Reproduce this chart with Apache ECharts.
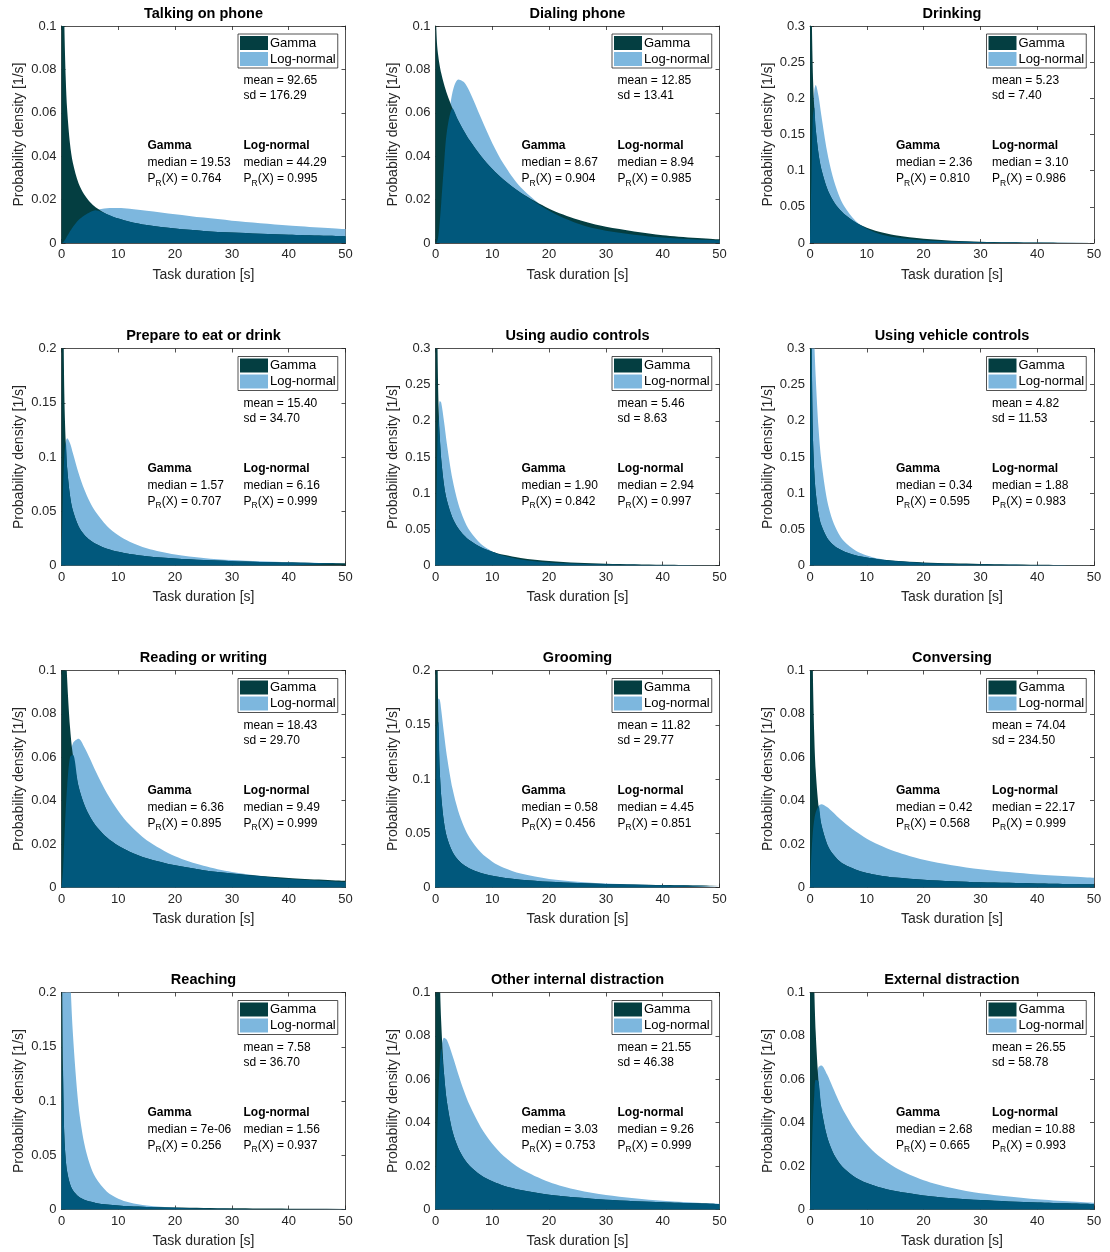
<!DOCTYPE html>
<html>
<head>
<meta charset="utf-8">
<script src="https://cdn.jsdelivr.net/npm/echarts@6/dist/echarts.min.js"></script>
<style>
  html, body { margin: 0; padding: 0; background: #fff; }
  #chart { width: 1110px; height: 1252px; }
</style>
</head>
<body>
<div id="chart"></div>
<script>
// Task durations (s) at which both densities are sampled
const X = [0, 0.25, 0.5, 0.75, 1, 1.5, 2, 3, 4, 5, 6, 8, 10, 12, 15, 20, 25, 30, 40, 50];

const TITLES = ['Talking on phone', 'Dialing phone', 'Drinking',
  'Prepare to eat or drink', 'Using audio controls', 'Using vehicle controls',
  'Reading or writing', 'Grooming', 'Conversing',
  'Reaching', 'Other internal distraction', 'External distraction'];
const Y_MAX  = [0.1, 0.1, 0.3, 0.2, 0.3, 0.3, 0.1, 0.2, 0.1, 0.2, 0.1, 0.1];
const Y_STEP = [0.02, 0.02, 0.05, 0.05, 0.05, 0.05, 0.02, 0.05, 0.02, 0.05, 0.02, 0.02];

const MEAN     = ['92.65', '12.85', '5.23', '15.40', '5.46', '4.82', '18.43', '11.82', '74.04', '7.58', '21.55', '26.55'];
const SD       = ['176.29', '13.41', '7.40', '34.70', '8.63', '11.53', '29.70', '29.77', '234.50', '36.70', '46.38', '58.78'];
const G_MEDIAN = ['19.53', '8.67', '2.36', '1.57', '1.90', '0.34', '6.36', '0.58', '0.42', '7e-06', '3.03', '2.68'];
const G_PR     = ['0.764', '0.904', '0.810', '0.707', '0.842', '0.595', '0.895', '0.456', '0.568', '0.256', '0.753', '0.665'];
const L_MEDIAN = ['44.29', '8.94', '3.10', '6.16', '2.94', '1.88', '9.49', '4.45', '22.17', '1.56', '9.26', '10.88'];
const L_PR     = ['0.995', '0.985', '0.986', '0.999', '0.997', '0.983', '0.999', '0.851', '0.999', '0.937', '0.999', '0.993'];

// Probability densities [1/s] at X (values above an axis top run off the plot)
const G_TALKING = [0.2, 0.1676, 0.1014, 0.0755, 0.0613, 0.0456, 0.0370, 0.0275, 0.0223, 0.0189, 0.0165, 0.0133, 0.01127, 0.00982, 0.00828, 0.00663, 0.00555, 0.00480, 0.00378, 0.00312];
const L_TALKING = [0, 0.0002, 0.0010, 0.0020, 0.0032, 0.0054, 0.0074, 0.0106, 0.0127, 0.0142, 0.0151, 0.0160, 0.0161, 0.0158, 0.0149, 0.0133, 0.0117, 0.0103, 0.0081, 0.0064];

const G_DIALING = [0.11, 0.0925, 0.0859, 0.0816, 0.0783, 0.0731, 0.0689, 0.0620, 0.0564, 0.0516, 0.0473, 0.0401, 0.0341, 0.0291, 0.0231, 0.0158, 0.0108, 0.0075, 0.0036, 0.0017];
const L_DIALING = [0, 0.0003, 0.0034, 0.0098, 0.0182, 0.0361, 0.0513, 0.0696, 0.0754, 0.0742, 0.0698, 0.0577, 0.0460, 0.0364, 0.0257, 0.0149, 0.0090, 0.0057, 0.0025, 0.0012];

const G_DRINKING = [0.45, 0.3408, 0.2352, 0.1875, 0.1585, 0.1233, 0.1018, 0.0756, 0.0595, 0.0483, 0.0401, 0.0287, 0.0212, 0.0160, 0.0107, 0.0058, 0.0032, 0.0018, 0.0006, 0.0002];
const L_DRINKING = [0, 0.0906, 0.1750, 0.2100, 0.2184, 0.2031, 0.1761, 0.1268, 0.0918, 0.0678, 0.0512, 0.0309, 0.0198, 0.0133, 0.0079, 0.0037, 0.0020, 0.0012, 0.0005, 0.0002];

const G_PREPARE = [0.4, 0.2756, 0.1575, 0.1133, 0.0897, 0.0643, 0.0507, 0.0362, 0.0283, 0.0234, 0.0200, 0.0154, 0.0126, 0.0106, 0.0085, 0.0064, 0.0050, 0.0040, 0.0028, 0.0021];
const L_PREPARE = [0, 0.0673, 0.1015, 0.1140, 0.1172, 0.1127, 0.1037, 0.0853, 0.0703, 0.0586, 0.0495, 0.0365, 0.0279, 0.0220, 0.0160, 0.0102, 0.0070, 0.0050, 0.0029, 0.0018];

const G_AUDIO = [0.45, 0.3574, 0.2315, 0.1783, 0.1473, 0.1113, 0.0903, 0.0658, 0.0515, 0.0418, 0.0349, 0.0253, 0.0191, 0.0148, 0.0104, 0.0061, 0.0037, 0.0023, 0.0009, 0.0004];
const L_AUDIO = [0, 0.1279, 0.2057, 0.2274, 0.2255, 0.1991, 0.1684, 0.1188, 0.0857, 0.0635, 0.0483, 0.0297, 0.0195, 0.0134, 0.0082, 0.0041, 0.0023, 0.0014, 0.0006, 0.0003];

const G_VEHICLE = [0.5, 0.3291, 0.1841, 0.1306, 0.1020, 0.0717, 0.0555, 0.0383, 0.0291, 0.0234, 0.0194, 0.0142, 0.0110, 0.0088, 0.0066, 0.0043, 0.0030, 0.0022, 0.0012, 0.0007];
const L_VEHICLE = [0, 0.4019, 0.3676, 0.3104, 0.2613, 0.1904, 0.1443, 0.0907, 0.0619, 0.0447, 0.0336, 0.0207, 0.0138, 0.0097, 0.0061, 0.0033, 0.0020, 0.0013, 0.0006, 0.0003];

const G_READING = [0.3, 0.2280, 0.1481, 0.1148, 0.0957, 0.0738, 0.0612, 0.0467, 0.0383, 0.0327, 0.0286, 0.0230, 0.0192, 0.0165, 0.0135, 0.0102, 0.0080, 0.0065, 0.0044, 0.0031];
const L_READING = [0, 0.0075, 0.0226, 0.0362, 0.0468, 0.0601, 0.0664, 0.0685, 0.0648, 0.0594, 0.0537, 0.0434, 0.0353, 0.0289, 0.0218, 0.0144, 0.0100, 0.0072, 0.0040, 0.0025];

const G_GROOMING = [0.4, 0.2749, 0.1528, 0.1082, 0.0846, 0.0598, 0.0466, 0.0327, 0.0253, 0.0207, 0.0175, 0.0134, 0.0108, 0.0090, 0.0072, 0.0053, 0.0041, 0.0033, 0.0023, 0.0016];
const L_GROOMING = [0, 0.1455, 0.1742, 0.1731, 0.1640, 0.1416, 0.1213, 0.0909, 0.0705, 0.0562, 0.0459, 0.0322, 0.0238, 0.0182, 0.0128, 0.0079, 0.0053, 0.0037, 0.0021, 0.0013];

const G_CONVERSING = [0.3, 0.1888, 0.1011, 0.0701, 0.0541, 0.0375, 0.0290, 0.0201, 0.0155, 0.0126, 0.0107, 0.0083, 0.0067, 0.0057, 0.0046, 0.0036, 0.0029, 0.0024, 0.0019, 0.0015];
const L_CONVERSING = [0, 0.0155, 0.0256, 0.0313, 0.0346, 0.0377, 0.0384, 0.0371, 0.0348, 0.0323, 0.0300, 0.0259, 0.0225, 0.0198, 0.0166, 0.0128, 0.0103, 0.0084, 0.0060, 0.0045];

const G_REACHING = [0.3, 0.1318, 0.0678, 0.0459, 0.0348, 0.0235, 0.0178, 0.0120, 0.0091, 0.0073, 0.0061, 0.0046, 0.0037, 0.0030, 0.0024, 0.0018, 0.0014, 0.0011, 0.0008, 0.0006];
const L_REACHING = [0, 0.4152, 0.4242, 0.3679, 0.3104, 0.2215, 0.1627, 0.0955, 0.0611, 0.0415, 0.0295, 0.0164, 0.0100, 0.0065, 0.0037, 0.0017, 0.0009, 0.0005, 0.0002, 0.0001];

const G_OTHER = [0.35, 0.2586, 0.1498, 0.1087, 0.0866, 0.0627, 0.0498, 0.0359, 0.0283, 0.0235, 0.0202, 0.0158, 0.0130, 0.0110, 0.0090, 0.0068, 0.0055, 0.0045, 0.0033, 0.0025];
const L_OTHER = [0, 0.0290, 0.0533, 0.0669, 0.0742, 0.0792, 0.0782, 0.0709, 0.0625, 0.0547, 0.0481, 0.0378, 0.0303, 0.0247, 0.0188, 0.0127, 0.0090, 0.0067, 0.0040, 0.0026];

const G_EXTERNAL = [0.35, 0.2479, 0.1425, 0.1030, 0.0818, 0.0590, 0.0467, 0.0336, 0.0265, 0.0220, 0.0189, 0.0148, 0.0122, 0.0104, 0.0085, 0.0065, 0.0052, 0.0044, 0.0032, 0.0025];
const L_EXTERNAL = [0, 0.0215, 0.0411, 0.0529, 0.0598, 0.0657, 0.0664, 0.0623, 0.0563, 0.0504, 0.0451, 0.0364, 0.0299, 0.0249, 0.0194, 0.0135, 0.0099, 0.0075, 0.0047, 0.0031];

const GAMMA = [G_TALKING, G_DIALING, G_DRINKING, G_PREPARE, G_AUDIO, G_VEHICLE,
  G_READING, G_GROOMING, G_CONVERSING, G_REACHING, G_OTHER, G_EXTERNAL];
const LOGN = [L_TALKING, L_DIALING, L_DRINKING, L_PREPARE, L_AUDIO, L_VEHICLE,
  L_READING, L_GROOMING, L_CONVERSING, L_REACHING, L_OTHER, L_EXTERNAL];

// Panel geometry and styling
const COL_LEFT = [61.5, 435.5, 810];
const ROW_TOP = [26, 348.5, 670.5, 992.5];
const PLOT_W = 284;
const PLOT_H = 217;
const FONT = '"Liberation Sans", Arial, Helvetica, sans-serif';
const AXIS_COLOR = '#262626';
const C_GAMMA = '#043e41';
const C_LOGN = '#7db7de';
const C_BOTH = '#01587c';

const grids = [], xAxes = [], yAxes = [], series = [], legends = [], graphics = [];

const fmtY = v => String(+v.toFixed(3));

function text(x, y, str, extra) {
  return {
    type: 'text', x: x, y: y, silent: true,
    style: Object.assign({
      text: str, fill: '#000', fontSize: 12, fontFamily: FONT,
      textVerticalAlign: 'middle', textAlign: 'left'
    }, extra || {})
  };
}

TITLES.forEach((title, i) => {
  const r = Math.floor(i / 3), c = i % 3;
  const left = COL_LEFT[c], top = ROW_TOP[r];
  grids.push({ left: left, top: top, width: PLOT_W, height: PLOT_H, containLabel: false });

  const tickStyle = { show: true, inside: true, length: 4, lineStyle: { color: AXIS_COLOR, width: 0.8 } };
  const lineStyle = { show: true, onZero: false, lineStyle: { color: AXIS_COLOR, width: 0.8 } };

  xAxes.push({
    gridIndex: i, type: 'value', min: 0, max: 50, interval: 10, position: 'bottom',
    axisLine: lineStyle, axisTick: tickStyle, splitLine: { show: false },
    axisLabel: { fontSize: 13, color: AXIS_COLOR, margin: 5, fontFamily: FONT },
    name: 'Task duration [s]', nameLocation: 'middle', nameGap: 25,
    nameTextStyle: { fontSize: 14, color: AXIS_COLOR, fontFamily: FONT }
  });
  xAxes.push({
    gridIndex: i, type: 'value', min: 0, max: 50, interval: 10, position: 'top',
    axisLine: lineStyle, axisTick: tickStyle, splitLine: { show: false },
    axisLabel: { show: false }
  });
  yAxes.push({
    gridIndex: i, type: 'value', min: 0, max: Y_MAX[i], interval: Y_STEP[i], position: 'left',
    axisLine: lineStyle, axisTick: tickStyle, splitLine: { show: false },
    axisLabel: { fontSize: 13, color: AXIS_COLOR, margin: 5, fontFamily: FONT, formatter: fmtY },
    name: 'Probability density [1/s]', nameLocation: 'middle', nameGap: 35,
    nameTextStyle: { fontSize: 14, color: AXIS_COLOR, fontFamily: FONT }
  });
  yAxes.push({
    gridIndex: i, type: 'value', min: 0, max: Y_MAX[i], interval: Y_STEP[i], position: 'right',
    axisLine: lineStyle, axisTick: tickStyle, splitLine: { show: false },
    axisLabel: { show: false }
  });

  const g = GAMMA[i], l = LOGN[i];
  const both = g.map((v, j) => Math.min(v, l[j]));
  const area = (name, vals, color, z) => ({
    name: name, type: 'line', xAxisIndex: 2 * i, yAxisIndex: 2 * i,
    data: X.map((x, j) => [x, vals[j]]),
    smooth: 0.3, showSymbol: false, symbol: 'none', silent: true, clip: true,
    color: color, itemStyle: { color: color },
    lineStyle: { width: 0, color: color },
    areaStyle: { color: color, opacity: 1 }, z: z
  });
  series.push(area('Log-normal', l, C_LOGN, 2));
  series.push(area('Gamma', g, C_GAMMA, 3));
  series.push(area('Both', both, C_BOTH, 4));

  legends.push({
    data: ['Gamma', 'Log-normal'], orient: 'vertical', selectedMode: false,
    left: left + 176.5, top: top + 8, icon: 'rect', itemWidth: 28, itemHeight: 14, itemGap: 2,
    backgroundColor: '#fff', borderColor: AXIS_COLOR, borderWidth: 0.8, borderRadius: 0,
    padding: [2, 2, 2, 2],
    textStyle: { fontSize: 13, color: '#000', fontFamily: FONT, padding: [0, 0, 0, -3] }
  });

  // Panel title
  graphics.push(text(left + PLOT_W / 2, top - 12.5, title,
    { fontSize: 14.5, fontWeight: 'bold', textAlign: 'center' }));
  // Pooled statistics
  graphics.push(text(left + 182, top + 55, 'mean = ' + MEAN[i]));
  graphics.push(text(left + 182, top + 70, 'sd = ' + SD[i]));
  // Fit summaries
  const rich = {
    a: { fontSize: 12, fontFamily: FONT, lineHeight: 18, verticalAlign: 'middle', fill: '#000' },
    b: { fontSize: 8.5, fontFamily: FONT, lineHeight: 18, verticalAlign: 'bottom', fill: '#000' }
  };
  [[86, 'Gamma', G_MEDIAN[i], G_PR[i]], [182, 'Log-normal', L_MEDIAN[i], L_PR[i]]].forEach(([dx, head, med, pr]) => {
    graphics.push(text(left + dx, top + 120, head, { fontWeight: 'bold' }));
    graphics.push(text(left + dx, top + 137, 'median = ' + med));
    graphics.push(text(left + dx, top + 153, '{a|P}{b|R}{a|(X) = ' + pr + '}', { rich: rich }));
  });
});

const chart = echarts.init(document.getElementById('chart'), null, { renderer: 'canvas' });
chart.setOption({
  animation: false,
  backgroundColor: '#fff',
  grid: grids,
  xAxis: xAxes,
  yAxis: yAxes,
  legend: legends,
  series: series,
  graphic: graphics
});
</script>
</body>
</html>
